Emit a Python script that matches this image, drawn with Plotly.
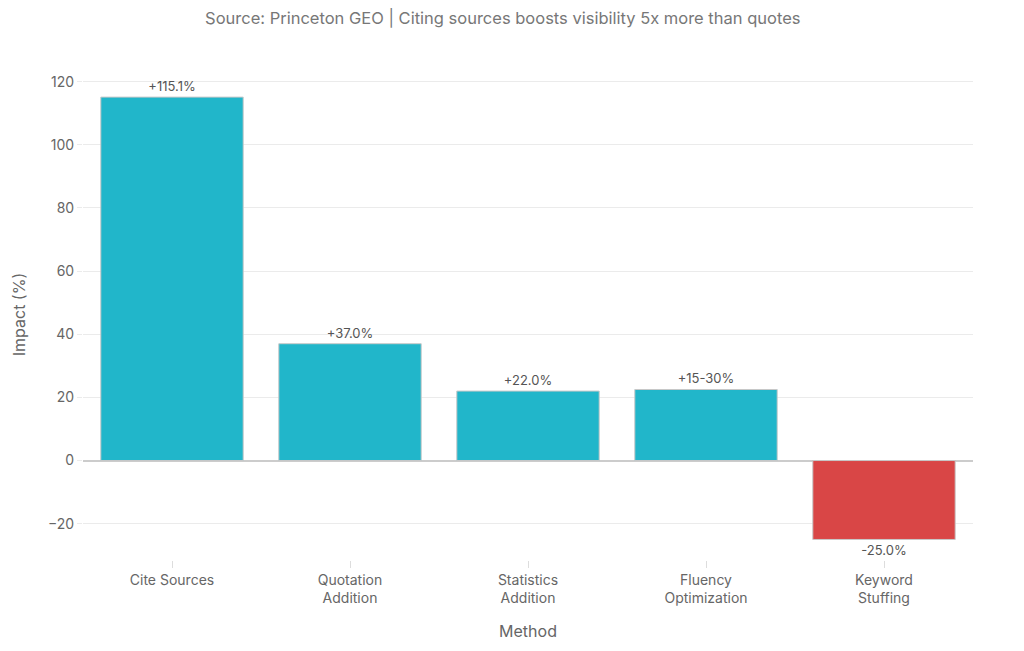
import plotly.graph_objects as go

methods = ["Cite Sources", "Quotation<br>Addition", "Statistics<br>Addition", "Fluency<br>Optimization", "Keyword<br>Stuffing"]
impact = [115.1, 37.0, 22.0, 22.5, -25.0]
labels = ["+115.1%", "+37.0%", "+22.0%", "+15-30%", "-25.0%"]
colors = ["#21B6CA", "#21B6CA", "#21B6CA", "#21B6CA", "#D94646"]

fig = go.Figure(go.Bar(
    x=methods, y=impact, text=labels, textposition="outside",
    marker=dict(color=colors, line=dict(color="#C8C8C8", width=1)),
    textfont=dict(size=13, color="#555555"),
    cliponaxis=False,
))

fig.update_layout(
    width=1024, height=651,
    paper_bgcolor="white", plot_bgcolor="white",
    margin=dict(l=83, r=51, t=69, b=91),
    font=dict(family="Inter, Lato, sans-serif", color="#666666", size=13),
    title=dict(text="Source: Princeton GEO | Citing sources boosts visibility 5x more than quotes",
               x=0.491, xanchor="center", y=0.972, yanchor="middle",
               font=dict(size=16.5, color="#777777")),
    bargap=0.2,
    showlegend=False,
)
fig.update_xaxes(title=dict(text="Method", font=dict(size=16, color="#666666"), standoff=20),
                 ticks="outside", ticklen=7, tickcolor="#DDDDDD", showline=False,
                 tickfont=dict(size=14, color="#666666"))
fig.update_yaxes(title=dict(text="Impact (%)", font=dict(size=16, color="#666666"), standoff=18),
                 range=[-31.5, 124], dtick=20, gridcolor="#EBEBEB",
                 zeroline=True, zerolinecolor="#CCCCCC", zerolinewidth=1.5,
                 ticks="outside", ticklen=5, tickcolor="#EBEBEB",
                 tickfont=dict(size=14, color="#666666"))

fig.write_html("out.html")
